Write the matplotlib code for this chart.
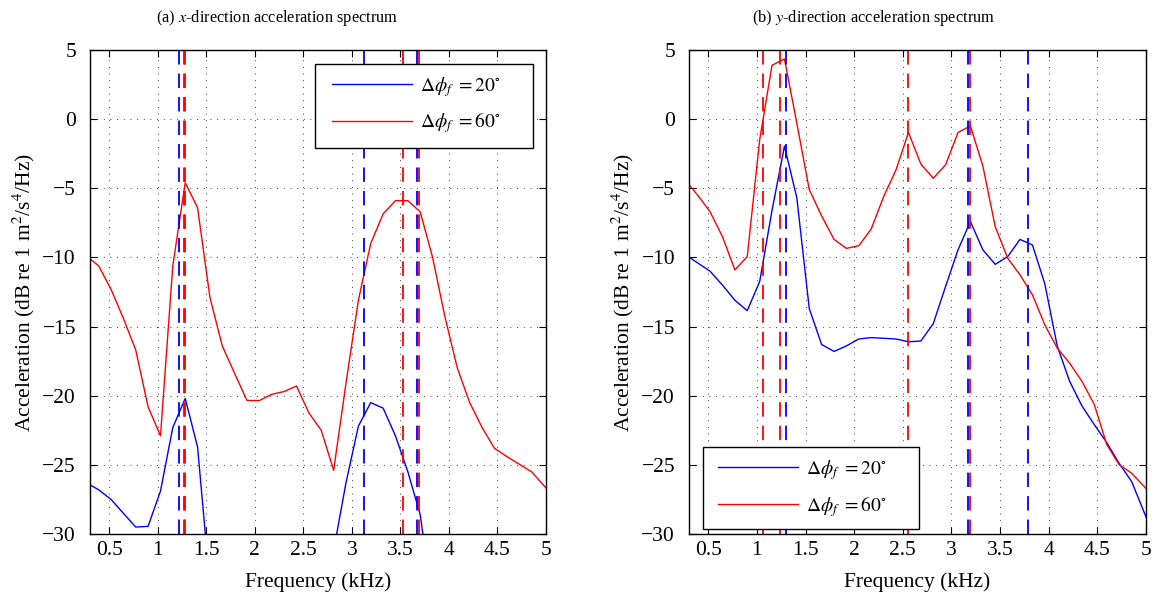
import numpy as np
import matplotlib
matplotlib.use("Agg")
import matplotlib.pyplot as plt
from matplotlib.patches import Rectangle

plt.rcParams['font.family'] = ['Liberation Serif', 'DejaVu Serif']
plt.rcParams['mathtext.fontset'] = 'stix'
plt.rcParams['axes.unicode_minus'] = True

# frequency samples (kHz)
freq = [0.263, 0.390, 0.518, 0.645, 0.773, 0.900, 1.028, 1.155, 1.283, 1.410,
        1.538, 1.665, 1.793, 1.920, 2.048, 2.175, 2.303, 2.430, 2.558, 2.685,
        2.813, 2.940, 3.068, 3.195, 3.323, 3.450, 3.578, 3.705, 3.833, 3.960,
        4.088, 4.215, 4.343, 4.470, 4.598, 4.725, 4.853, 4.980, 5.108]

nan = np.nan

# (a) x-direction
x_20 = [-26.3, -26.8, -27.5, -28.5, -29.5, -29.45, -26.9, -22.3, -20.2, -23.7,
        -33.7, nan, nan, nan, nan, nan, nan, nan, nan, nan,
        -31.2, -26.3, -22.2, -20.5, -20.9, -22.9, -25.5, -28.6, -35.0, nan,
        nan, nan, nan, nan, nan, nan, nan, nan, nan]
x_60 = [-9.9, -10.6, -12.3, -14.4, -16.7, -20.8, -22.9, -10.6, -4.6, -6.4,
        -12.9, -16.4, -18.4, -20.35, -20.35, -19.9, -19.7, -19.3, -21.25, -22.5,
        -25.4, -19.1, -13.1, -9.0, -6.85, -5.9, -5.9, -6.7, -10.0, -14.3,
        -18.0, -20.5, -22.3, -23.8, -24.4, -24.95, -25.5, -26.5, -27.5]

# (b) y-direction
y_20 = [-9.8, -10.4, -11.0, -12.0, -13.1, -13.85, -11.75, -6.6, -1.95, -5.7,
        -13.7, -16.3, -16.8, -16.4, -15.9, -15.8, -15.85, -15.9, -16.1, -16.05,
        -14.8, -12.1, -9.45, -7.4, -9.45, -10.5, -9.95, -8.7, -9.1, -11.9,
        -16.4, -18.95, -20.75, -22.1, -23.4, -24.9, -26.2, -28.4, -30.5]
y_60 = [-4.4, -5.5, -6.7, -8.5, -10.9, -9.95, -1.5, 3.9, 4.35, -0.3,
        -5.1, -7.0, -8.7, -9.35, -9.15, -7.95, -5.6, -3.67, -0.97, -3.24,
        -4.28, -3.3, -0.97, -0.49, -3.38, -7.77, -10.05, -11.26, -12.7, -14.87,
        -16.55, -17.64, -18.97, -20.65, -23.54, -24.99, -25.6, -26.55, -27.5]

# vertical dashed markers (kHz)
x_marks_20 = [1.22, 3.126, 3.676]
x_marks_60 = [1.270, 1.285, 3.525, 3.692]
y_marks_20 = [1.295, 3.171, 3.784]
y_marks_60 = [1.065, 1.237, 2.553, 3.190]

labels = [r'$\Delta\phi_f\ {=}20^{\circ}$', r'$\Delta\phi_f\ {=}60^{\circ}$']
titles = [r'(a) $x$-direction acceleration spectrum',
          r'(b) $y$-direction acceleration spectrum']

fs = 15.5
fig = plt.figure(figsize=(11.52, 6.05), dpi=100)
ax1 = fig.add_axes([0.078, 0.1174, 0.3958, 0.80])
ax2 = fig.add_axes([0.598, 0.1174, 0.3967, 0.80])


def draw(ax, s20, s60, m20, m60, box, anchor):
    l1, = ax.plot(freq, s20, color='blue', lw=1.0)
    l2, = ax.plot(freq, s60, color='red', lw=1.0)
    for m in m20:
        ax.axvline(m, color='blue', lw=1.3, dashes=(8, 5))
    for m in m60:
        ax.axvline(m, color='red', lw=1.3, dashes=(8, 5))
    ax.set_xlim(0.3, 5)
    ax.set_ylim(-30, 5)
    ax.set_xticks([0.5, 1, 1.5, 2, 2.5, 3, 3.5, 4, 4.5, 5])
    ax.set_xticklabels(['0.5', '1', '1.5', '2', '2.5', '3', '3.5', '4', '4.5', '5'])
    ax.set_yticks([-30, -25, -20, -15, -10, -5, 0, 5])
    ax.grid(True, color='black', lw=0.6, linestyle=(0, (1, 7)))
    ax.tick_params(direction='in', top=True, right=True, length=5,
                   labelsize=fs, pad=5)
    ax.tick_params(axis='y', pad=10)
    for sp in ax.spines.values():
        sp.set_linewidth(1.0)
    ax.set_xlabel('Frequency (kHz)', fontsize=fs, labelpad=9)
    ax.set_ylabel(r'Acceleration (dB re 1 m$^2$/s$^4$/Hz)', fontsize=fs, labelpad=4)
    # MATLAB-style legend box (wide, with white fill)
    x0, y0, w, h = box
    ax.add_patch(Rectangle((x0, y0), w, h, transform=ax.transAxes,
                           facecolor='white', edgecolor='black', lw=1.0,
                           zorder=4.5, clip_on=False))
    leg = ax.legend([l1, l2], labels, loc='center left', bbox_to_anchor=anchor,
                    fontsize=14, handlelength=4.1, labelspacing=0.6,
                    borderpad=0, handletextpad=0.45, frameon=False,
                    borderaxespad=0)
    leg.set_zorder(5)


draw(ax1, x_20, x_60, x_marks_20, x_marks_60,
     (0.494, 0.7975, 0.478, 0.1735), (0.531, 0.886))
draw(ax2, y_20, y_60, y_marks_20, y_marks_60,
     (0.0306, 0.0103, 0.4724, 0.1695), (0.0635, 0.0944))

# subfigure captions, centred on each half of the figure
fig.text(277 / 1152, 0.970, titles[0], fontsize=11.8, ha='center', va='center')
fig.text(874 / 1152, 0.970, titles[1], fontsize=11.8, ha='center', va='center')

fig.savefig('out.png', dpi=100)
